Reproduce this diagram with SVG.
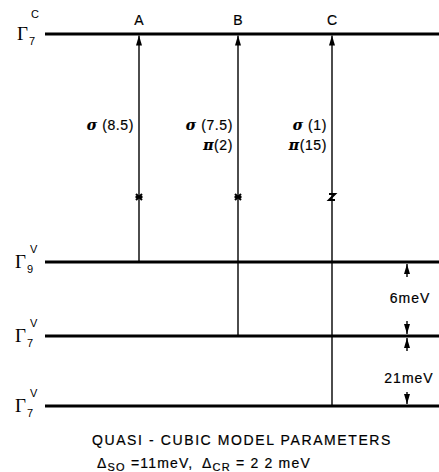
<svg xmlns="http://www.w3.org/2000/svg" width="439" height="472" viewBox="0 0 439 472">
<defs>
<marker id="ah" viewBox="0 0 10 6" refX="10" refY="3" markerWidth="10" markerHeight="6" markerUnits="userSpaceOnUse" orient="auto">
<path d="M0,0 L10,3 L0,6 Z" fill="#000"/>
</marker>
<style>
.lvl{stroke:#000;stroke-width:3;fill:none}
.tr{stroke:#000;stroke-width:1.4;fill:none}
.t{font-family:"Liberation Sans",Arial,sans-serif;font-size:14px;fill:#000;stroke:#000;stroke-width:0.2}
.g{font-family:"Liberation Serif","Times New Roman",serif;font-size:19px;fill:#000}
.s{font-family:"Liberation Sans",Arial,sans-serif;font-size:11px;fill:#000}
.gk{font-family:"DejaVu Serif",serif;font-style:italic;font-weight:bold;font-size:14px;fill:#000}
</style>
</defs>
<g id="levels">
<g id="G7c"><line class="lvl" x1="45" y1="34" x2="439" y2="34"/><text class="g" x="17" y="40">Γ</text><text class="s" x="29" y="45">7</text><text class="s" x="31" y="18">C</text></g>
<g id="G9v"><line class="lvl" x1="45" y1="262" x2="439" y2="262"/><text class="g" x="15" y="268">Γ</text><text class="s" x="27" y="273">9</text><text class="s" x="30" y="253">V</text></g>
<g id="G7v1"><line class="lvl" x1="45" y1="336" x2="439" y2="336"/><text class="g" x="15" y="342">Γ</text><text class="s" x="27" y="347">7</text><text class="s" x="30" y="327">V</text></g>
<g id="G7v2"><line class="lvl" x1="45" y1="406" x2="439" y2="406"/><text class="g" x="15" y="412">Γ</text><text class="s" x="27" y="417">7</text><text class="s" x="30" y="397">V</text></g>
</g>
<g id="connectors">
<line class="tr" x1="139" y1="262" x2="139" y2="35.5" marker-end="url(#ah)"/>
<line class="tr" x1="238" y1="336" x2="238" y2="35.5" marker-end="url(#ah)"/>
<line class="tr" x1="332" y1="406" x2="332" y2="35.5" marker-end="url(#ah)"/>
<path d="M136,194 L142,200 M142,194 L136,200 M135.5,197 L142.5,197" stroke="#000" stroke-width="2"/>
<path d="M235,194 L241,200 M241,194 L235,200 M234.5,197 L241.5,197" stroke="#000" stroke-width="2"/>
<path d="M329,194 L335,194 L329,200 L335,200" stroke="#000" stroke-width="2" fill="none"/>
<line class="tr" x1="407" y1="277" x2="407" y2="264" marker-end="url(#ah)"/>
<line class="tr" x1="407" y1="321" x2="407" y2="334" marker-end="url(#ah)"/>
<line class="tr" x1="407" y1="351" x2="407" y2="338" marker-end="url(#ah)"/>
<line class="tr" x1="407" y1="392" x2="407" y2="404" marker-end="url(#ah)"/>
</g>
<g id="labels">
<text class="t" x="139" y="25" text-anchor="middle">A</text>
<text class="t" x="238" y="25" text-anchor="middle">B</text>
<text class="t" x="332" y="25" text-anchor="middle">C</text>
<text class="t" x="134" y="130" text-anchor="end" letter-spacing="0.6"><tspan class="gk">σ</tspan> (8.5)</text>
<text class="t" x="233" y="130" text-anchor="end" letter-spacing="0.6"><tspan class="gk">σ</tspan> (7.5)</text>
<text class="t" x="233" y="150" text-anchor="end" letter-spacing="0.6"><tspan class="gk">π</tspan>(2)</text>
<text class="t" x="327" y="130" text-anchor="end" letter-spacing="0.6"><tspan class="gk">σ</tspan> (1)</text>
<text class="t" x="327" y="150" text-anchor="end" letter-spacing="0.6"><tspan class="gk">π</tspan>(15)</text>
<text class="t" x="410" y="303" text-anchor="middle" letter-spacing="1">6meV</text>
<text class="t" x="409" y="383" text-anchor="middle" letter-spacing="1">21meV</text>
<text class="t" x="242" y="445" text-anchor="middle" letter-spacing="1.6">QUASI - CUBIC MODEL PARAMETERS</text>
<text class="t" x="97" y="468" letter-spacing="1.2">Δ<tspan class="s" dy="3">SO</tspan><tspan dy="-3"> =11meV,</tspan><tspan x="202">Δ</tspan><tspan class="s" dy="3">CR</tspan><tspan dy="-3"> = 2 2 meV</tspan></text>
</g>
</svg>
